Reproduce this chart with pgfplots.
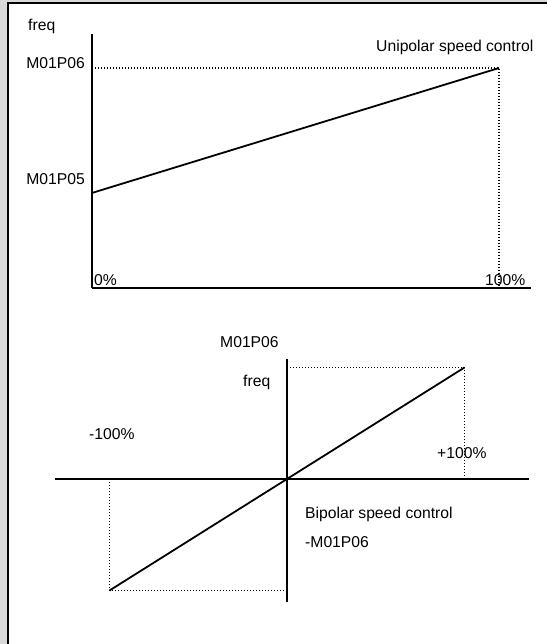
\documentclass[border=0pt]{standalone}
\usepackage{pgfplots}
\pgfplotsset{compat=1.18}
\usepackage{fontspec}
\setmainfont{Liberation Sans}

% one pt of the picture = one pixel of the reference (547 x 644)
\pgfplotsset{
  diag/.style={
    clip=false, enlargelimits=false, scale only axis,
    xtick=\empty, ytick=\empty,
    axis line style={-, line width=2pt, black},
    every inner x axis line/.append style={-},
    every inner y axis line/.append style={-},
    every outer x axis line/.append style={-},
    every outer y axis line/.append style={-},
  },
  guide/.style={black, line width=1.2pt, dash pattern=on 1.2pt off 1.8pt},
  ramp/.style={black, line width=1.8pt},
}

\begin{document}
\begin{tikzpicture}[x=1pt, y=1pt,
  lbl/.style={anchor=base west, inner sep=0pt, font=\fontsize{15.7}{18}\selectfont},
  lble/.style={anchor=base east, inner sep=0pt, font=\fontsize{15.7}{18}\selectfont}]
\useasboundingbox (0,0) rectangle (547,644);

% frame
\fill[black!15] (0,0) rectangle (7.2,644);
\fill[black!15] (0,642) rectangle (547,644);
\draw[line width=1.5pt] (8,0) -- (8,641) -- (547,641);

% unipolar: x in % of reference, y in % of M01P06
\begin{axis}[axis lines=left, diag,
  at={(92pt,356pt)}, anchor=origin,
  x=4.07pt, y=2.2pt,
  xmin=0, xmax=107.9, ymin=0, ymax=115.5]
\addplot[guide] coordinates {(0,100) (100,100) (100,0)};
\addplot[ramp] coordinates {(0,43.2) (100,100)};
\end{axis}

% bipolar
\begin{axis}[axis lines=middle, diag,
  at={(287pt,165pt)}, anchor=origin,
  x=1.775pt, y=1.115pt,
  xmin=-130.7, xmax=136.3, ymin=-110.3, ymax=107.6]
\addplot[guide] coordinates {(0,100) (100,100) (100,0)};
\addplot[guide] coordinates {(-100,0) (-100,-100) (0,-100)};
\addplot[ramp] coordinates {(-100,-100) (0,0) (100,100)};
\end{axis}

% texts, top
\node[lbl] at (28,613) {freq};
\node[lbl] at (376,592) {Unipolar speed control};
\node[lble] at (85,575.5) {M01P06};
\node[lble] at (85,459) {M01P05};
\node[lbl] at (94,358) {0\%};
\node[lbl] at (485,358) {100\%};

% texts, bottom
\node[lbl] at (220,296) {M01P06};
\node[lbl] at (243,257) {freq};
\node[lbl] at (89,204) {-100\%};
\node[lbl] at (437,185) {+100\%};
\node[lbl] at (305,125) {Bipolar speed control};
\node[lbl] at (305,96) {-M01P06};
\end{tikzpicture}
\end{document}
